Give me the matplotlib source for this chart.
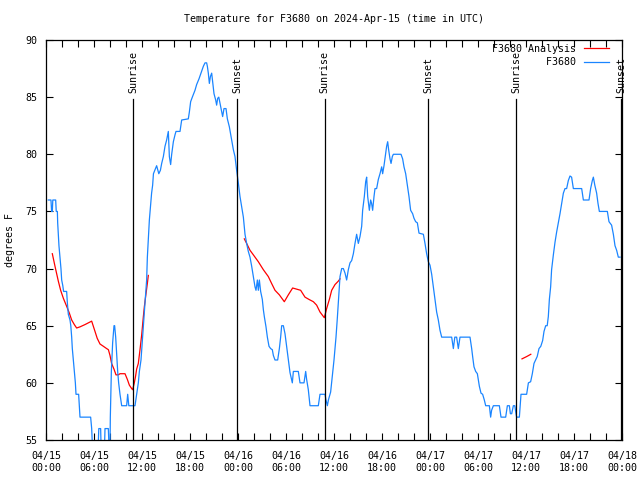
import numpy as np
import matplotlib
matplotlib.use('Agg')
import matplotlib.pyplot as plt
import matplotlib.transforms as mtransforms

nan = np.nan

# hours since 2024-04-15 00:00 UTC
obs_hours = [
    0.29, 0.62, 0.7, 0.79, 0.85, 1.21, 1.28, 1.42, 1.46, 1.54, 1.62, 1.75, 1.87, 1.96, 2.1, 2.2,
    2.58, 2.67, 2.79, 3.0, 3.1, 3.21, 3.29, 3.42, 3.54, 3.67, 3.75, 4.08, 4.17, 4.25, 5.58, 5.71,
    5.83, 6.5, 6.6, 6.83, 6.9, 7.3, 7.375, 7.79, 7.9, 8.0, 8.04, 8.17, 8.33, 8.5, 8.58, 8.71,
    8.83, 8.96, 9.08, 9.25, 9.46, 10.08, 10.21, 10.35, 11.125, 11.33, 11.54, 11.67, 11.875, 12.17,
    12.375, 12.58, 12.67, 12.79, 12.92, 13.08, 13.2, 13.33, 13.43, 13.83, 14.1, 14.3, 14.46, 14.67,
    14.875, 15.08, 15.29, 15.42, 15.58, 15.71, 15.92, 16.125, 16.25, 16.75, 16.96, 17.79, 17.92,
    18.08, 18.29, 18.625, 18.83, 19.125, 19.375, 19.67, 19.875, 20.08, 20.17, 20.29, 20.42, 20.55,
    20.71, 20.85, 21.0, 21.21, 21.33, 21.46, 21.6, 21.83, 22.08, 22.25, 22.5, 22.67, 22.92, 23.21,
    23.42, 23.625, 23.83, 24.04, 24.25, 24.67, 24.875, 25.08, 25.29, 25.5, 25.71, 25.92, 26.125,
    26.25, 26.42, 26.54, 26.67, 26.83, 27.04, 27.17, 27.29, 27.5, 27.67, 27.875, 28.08, 28.29,
    28.42, 28.625, 28.96, 29.17, 29.33, 29.46, 29.67, 29.875, 30.08, 30.29, 30.5, 30.79, 30.92,
    31.54, 31.75, 32.25, 32.46, 32.58, 32.79, 33.0, 34.04, 34.25, 34.875, 35.0, 35.17, 35.3, 35.58,
    35.79, 36.0, 36.25, 36.42, 36.58, 36.75, 36.96, 37.17, 37.38, 37.58, 37.79, 38.0, 38.21, 38.42,
    38.625, 38.83, 39.04, 39.25, 39.46, 39.58, 39.79, 39.96, 40.08, 40.21, 40.42, 40.58, 40.7,
    40.83, 41.0, 41.125, 41.33, 41.54, 41.75, 41.96, 42.08, 42.25, 42.46, 42.58, 42.71, 42.83,
    43.0, 43.13, 43.29, 43.42, 44.375, 44.58, 44.75, 44.96, 45.17, 45.375, 45.58, 45.83, 46.0,
    46.21, 46.42, 46.625, 47.17, 47.375, 47.58, 47.79, 48.0, 48.21, 48.42, 48.625, 48.83, 49.04,
    49.25, 49.46, 50.71, 50.92, 51.1, 51.33, 51.54, 51.75, 53.0, 53.21, 53.33, 53.5, 53.71, 53.92,
    54.04, 54.17, 54.375, 54.58, 54.79, 54.96, 55.42, 55.58, 55.7, 55.92, 56.67, 56.875, 57.46,
    57.67, 57.92, 58.05, 58.21, 58.42, 58.6, 58.75, 58.83, 59.17, 59.375, 60.08, 60.3, 60.58,
    60.79, 61.0, 61.2, 61.4, 61.625, 61.85, 62.08, 62.25, 62.46, 62.65, 62.79, 62.92, 63.08, 63.2,
    63.42, 63.625, 63.83, 64.04, 64.25, 64.46, 64.67, 64.875, 65.08, 65.29, 65.5, 65.7, 65.92,
    66.96, 67.17, 67.875, 68.08, 68.29, 68.42, 68.6, 68.83, 69.0, 69.17, 70.17, 70.375, 70.7,
    70.92, 71.125, 71.33, 71.54, 71.75,
]
obs_temp = [
    76, 76, 75, 75, 76, 76, 75, 75, 74, 73, 72, 71, 70, 69, 68.5, 68,
    68, 67, 66, 65.5, 65, 64, 63, 62, 61, 60, 59, 59, 58, 57, 57, 56,
    54, 54, 56, 56, 54, 54, 56, 56, 54, 54, 57, 61, 63.5, 65, 65, 64,
    62.5, 61, 60, 59, 58, 58, 59, 58, 58, 59, 60, 61, 62, 65,
    67, 69, 71, 72.5, 74.25, 75.6, 76.6, 77.3, 78.3, 79, 78.3, 78.6, 79.2, 79.8,
    80.7, 81.25, 82, 79.8, 79.1, 80, 81.1, 81.7, 82, 82, 83, 83.1, 83.7,
    84.6, 85, 85.6, 86.1, 86.6, 87.1, 87.7, 88, 88, 87.7, 87.1, 86.2, 86.8,
    87.1, 86.2, 85.3, 84.75, 84.3, 84.9, 85, 84.2, 83.3, 84, 84, 83.1, 82.4, 81.25,
    80.4, 79.8, 78.6, 77.5, 76.3, 74.5, 73, 72.2, 71.5, 71, 70.2, 69.3, 68.4,
    68.1, 69, 68.1, 69, 68, 67.3, 66.4, 65.8, 64.9, 64, 63.2, 63, 62.9,
    62.4, 62, 62, 63, 64, 65, 65, 64.3, 63.2, 62, 60.9, 60, 61,
    61, 60, 60, 61, 60.3, 59.4, 58, 58, 59, 59, 58.5, 58, 58.5, 59.2,
    60.6, 62, 64, 65.7, 67.5, 69.3, 70, 70, 69.6, 69, 69.9, 70.5, 70.7, 71.3,
    72.2, 73, 72.2, 72.8, 73.7, 75.1, 76.3, 77.6, 78, 76.3, 75.1, 76, 75.7,
    75.1, 76.3, 77, 77, 77.8, 78.3, 78.9, 78.3, 79, 80.1, 80.7, 81.1, 80.4,
    79.6, 79.2, 79.8, 80, 80, 79.6, 78.9, 78.3, 77.3, 76.3, 75.1, 74.8, 74.4,
    74.1, 74, 73.1, 73, 72.2, 71.3, 70.6, 70.3, 69.5, 68.4, 67.3, 66.2, 65.5,
    64.6, 64, 64, 63, 64, 64, 63, 64, 64, 63, 62.3, 61.4, 61, 60.8,
    60.3, 59.7, 59.1, 59, 58.5, 58, 58, 57, 57.6, 58, 58, 57, 57,
    58, 58, 57.3, 57.3, 58, 58, 57.3, 57, 57, 59, 59, 60, 60.1,
    60.8, 61.7, 62, 62.3, 63, 63.2, 63.7, 64.5, 65, 65, 65.8, 67.3, 68.4, 69.9,
    71.2, 72.3, 73.2, 74, 74.8, 75.7, 76.6, 77, 77, 77.7, 78.1, 78, 77,
    77, 76, 76, 77, 77.7, 78, 77.3, 76.6, 75.7, 75, 75, 74.1, 73.8,
    73, 72, 71.6, 71, 71,
]

ana_hours = [
    0.79, 1.125, 1.54, 1.83, 2.17, 2.58, 2.92, 3.21, 3.54, 3.83, 4.25, 4.875, 5.71, 6.125, 6.4,
    6.75, 7.17, 7.58, 7.8, 8.0, 8.2, 8.5, 8.75, 9.04, 9.25, 9.875, 10.17, 10.42, 10.71, 10.83,
    11.04, 11.2, 11.33, 11.54, 11.75, 11.96, 12.17, 12.3, 12.5, 12.67, 12.79, 18.0,
    24.79, 25.08, 25.5, 25.92, 26.54, 27.17, 27.79, 28.2, 28.625, 29.17, 29.79, 30.29, 30.83,
    31.33, 31.83, 32.375, 32.875, 33.42, 33.83, 34.25, 34.79, 35.08, 35.42, 35.71, 36.125, 36.54,
    36.75, 48.0,
    59.5, 60.08, 60.6,
]
ana_temp = [
    71.3, 70.2, 68.9, 68.1, 67.4, 66.7, 66.1, 65.5, 65.1, 64.8, 64.9, 65.1, 65.4, 64.5, 63.9,
    63.4, 63.2, 63, 62.9, 62.4, 61.7, 61.2, 60.7, 60.7, 60.8, 60.8, 60.3, 59.8, 59.5, 59.4,
    60, 60.6, 61.2, 61.7, 62.9, 64.2, 65.8, 66.7, 67.8, 68.7, 69.4, nan,
    72.6, 72.2, 71.6, 71.2, 70.6, 69.9, 69.3, 68.7, 68.1, 67.7, 67.1, 67.7, 68.3,
    68.2, 68.1, 67.5, 67.3, 67.1, 66.8, 66.2, 65.7, 66.5, 67.3, 68.1, 68.6, 68.9,
    69.1, nan,
    62.1, 62.3, 62.5,
]

sun_hours = [10.9, 23.87, 34.82, 47.8, 58.8, 71.9]
sun_names = ['Sunrise', 'Sunset', 'Sunrise', 'Sunset', 'Sunrise', 'Sunset']

tick_hours = [0, 6, 12, 18, 24, 30, 36, 42, 48, 54, 60, 66, 72]
tick_labels = ['04/15\n00:00', '04/15\n06:00', '04/15\n12:00', '04/15\n18:00',
               '04/16\n00:00', '04/16\n06:00', '04/16\n12:00', '04/16\n18:00',
               '04/17\n00:00', '04/17\n06:00', '04/17\n12:00', '04/17\n18:00',
               '04/18\n00:00']

plt.rcParams['font.family'] = ['DejaVu Sans Mono']
plt.rcParams['font.size'] = 7.2

fig = plt.figure(figsize=(6.4, 4.8), dpi=100)
ax = fig.add_axes([46 / 640, 40 / 480, 576 / 640, 400 / 480])

ax.plot(ana_hours, ana_temp, color='#ff0000', lw=0.9, label='F3680 Analysis')
ax.plot(obs_hours, obs_temp, color='#1a85ff', lw=0.9, label='         F3680')

trans = mtransforms.blended_transform_factory(ax.transData, ax.transAxes)
for h, name in zip(sun_hours, sun_names):
    ax.axvline(h, ymin=0, ymax=0.853, color='black', lw=0.9)
    ax.text(h, 0.868, name, rotation=90, transform=trans, ha='center', va='bottom')

ax.set_xlim(0, 72)
ax.set_ylim(55, 90)
ax.set_xticks(tick_hours)
ax.set_xticklabels(tick_labels)
ax.set_xticks(np.arange(0, 73, 2), minor=True)
ax.set_yticks(np.arange(55, 91, 5))
ax.tick_params(which='both', direction='in', length=5, width=0.8, top=True, right=True)
ax.tick_params(axis='x', pad=8)
ax.tick_params(axis='y', pad=6)
for s in ax.spines.values():
    s.set_linewidth(0.9)

ax.set_ylabel('degrees F', labelpad=8)
ax.set_title('Temperature for F3680 on 2024-Apr-15 (time in UTC)', fontsize=7.2, pad=13)
ax.legend(loc='upper right', bbox_to_anchor=(0.984, 1.0), frameon=False, markerfirst=False,
          handlelength=2.5, handletextpad=0.75, labelspacing=0.35, borderaxespad=0.2,
          borderpad=0.2)

fig.savefig('out.png', dpi=100)
